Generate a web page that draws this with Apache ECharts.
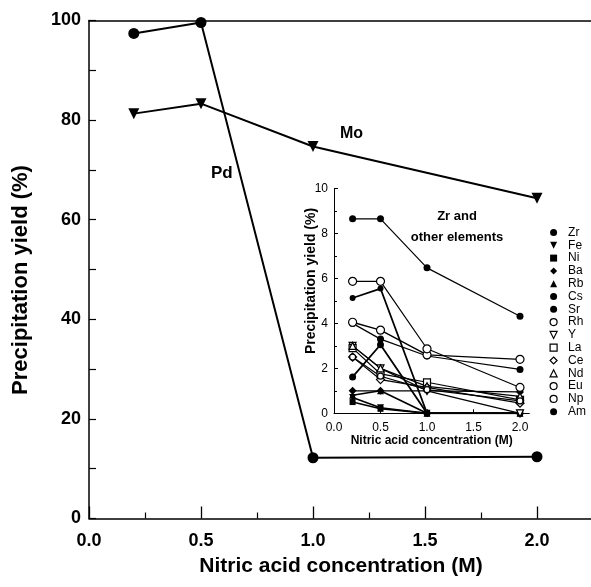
<!DOCTYPE html>
<html>
<head>
<meta charset="utf-8">
<script src="https://cdn.jsdelivr.net/npm/echarts@6/dist/echarts.min.js"></script>
<style>
  html, body { margin: 0; padding: 0; background: #fff; }
  #chart { width: 591px; height: 587px; }
</style>
</head>
<body>
<div id="chart"></div>
<script>
// main plot: Pd and Mo yields vs nitric acid concentration
const mainX = [0.2, 0.5, 1.0, 2.0];
const pdYield = [97.4, 99.6, 12.2, 12.4];
const moYield = [81.3, 83.3, 74.7, 64.3];
const mainXTicks = [0, 0.5, 1.0, 1.5, 2.0];
const mainXMinor = [0.25, 0.75, 1.25, 1.75];

// inset: Zr and other elements, same concentrations
const insetX = [0.2, 0.5, 1.0, 2.0];
const zr = [8.65, 8.65, 6.47, 4.32];
const fe = [0.7, 0.25, 0, 0];
const ni = [0.5, 0.2, 0, 0];
const ba = [1.0, 1.0, 1.0, 0.95];
const rb = [0.8, 1.0, 0, 0];
const cs = [5.13, 5.55, 0, 0];
const sr = [1.62, 3.05, 0, 0];
const rh = [4.05, 3.7, 2.6, 2.4];
const yt = [3.0, 2.0, 1.0, 0];
const la = [2.9, 1.75, 1.38, 0.6];
const ce = [2.5, 1.5, 1.15, 0.45];
const nd = [3.0, 2.0, 1.2, 0.75];
const eu = [2.5, 1.65, 1.05, 0.55];
const np = [5.87, 5.87, 2.87, 1.15];
const am = [4.0, 3.3, 2.55, 1.95];
const insetXTicks = [0, 0.5, 1.0, 1.5, 2.0];

const FONT = 'Liberation Sans, Arial, sans-serif';
const DOWN = 'path://M0,0L2,0L1,2Z';

// name, values, symbol, size, open?, line width
const insetSeries = [
  ['Zr', zr, 'circle', 7, false, 1.2],
  ['Fe', fe, DOWN, 7, false, 1.6],
  ['Ni', ni, 'rect', 6, false, 1.6],
  ['Ba', ba, 'diamond', 8, false, 1.2],
  ['Rb', rb, 'triangle', 7, false, 1.6],
  ['Cs', cs, 'circle', 6, false, 1.8],
  ['Sr', sr, 'circle', 7, false, 1.8],
  ['Rh', rh, 'circle', 8, true, 1.4],
  ['Y', yt, DOWN, 7, true, 1.2],
  ['La', la, 'rect', 7, true, 1.2],
  ['Ce', ce, 'diamond', 8, true, 1.2],
  ['Nd', nd, 'triangle', 7, true, 1.2],
  ['Eu', eu, 'circle', 6, true, 1.2],
  ['Np', np, 'circle', 8, true, 1.2],
  ['Am', am, 'circle', 7, false, 1.2],
];

const pairs = (xs, ys) => xs.map((x, i) => [x, ys[i]]);
const fillOf = (open) => open
  ? { color: '#fff', borderColor: '#000', borderWidth: 1.2 }
  : { color: '#000', borderColor: '#000', borderWidth: 0 };

const axisLine = (w) => ({ show: true, lineStyle: { color: '#000', width: w } });

const option = {
  backgroundColor: '#fff',
  animation: false,
  grid: [
    { left: 89, top: 20.5, width: 504, height: 498, containLabel: false, outerBoundsMode: 'none' },
    { left: 334, top: 188.5, width: 195.3, height: 224.8, containLabel: false, outerBoundsMode: 'none' },
  ],
  xAxis: [
    {
      gridIndex: 0, type: 'value', min: 0, max: 2.25, position: 'bottom',
      axisLine: axisLine(1.5), splitLine: { show: false },
      axisTick: { show: true, inside: true, length: 12, customValues: mainXTicks, lineStyle: { color: '#000', width: 1.3 } },
      axisLabel: { customValues: mainXTicks, formatter: (v) => v.toFixed(1), margin: 14,
        fontFamily: FONT, fontWeight: 'bold', fontSize: 18, color: '#000' },
      name: 'Nitric acid concentration (M)', nameLocation: 'middle', nameGap: 36,
      nameTextStyle: { fontFamily: FONT, fontWeight: 'bold', fontSize: 21, color: '#000' },
    },
    {
      gridIndex: 0, type: 'value', min: 0, max: 2.25, position: 'bottom',
      axisLine: { show: false }, splitLine: { show: false }, axisLabel: { show: false },
      axisTick: { show: true, inside: true, length: 6, customValues: mainXMinor, lineStyle: { color: '#000', width: 1.2 } },
    },
    {
      gridIndex: 0, type: 'value', min: 0, max: 2.25, position: 'top',
      axisLine: axisLine(1.5), splitLine: { show: false }, axisLabel: { show: false }, axisTick: { show: false },
    },
    {
      gridIndex: 1, type: 'value', min: 0, max: 2.1,
      axisLine: axisLine(1), splitLine: { show: false },
      axisTick: { show: true, inside: true, length: 4, customValues: insetXTicks, lineStyle: { color: '#000' } },
      axisLabel: { customValues: insetXTicks, formatter: (v) => v.toFixed(1), margin: 8,
        fontFamily: FONT, fontSize: 12, color: '#000' },
      name: 'Nitric acid concentration (M)', nameLocation: 'middle', nameGap: 21,
      nameTextStyle: { fontFamily: FONT, fontWeight: 'bold', fontSize: 12, color: '#000' },
    },
  ],
  yAxis: [
    {
      gridIndex: 0, type: 'value', min: 0, max: 100, interval: 20,
      axisLine: axisLine(1.5), splitLine: { show: false },
      axisTick: { show: true, inside: true, length: 7, lineStyle: { color: '#000', width: 1.2 } },
      minorTick: { show: true, splitNumber: 2, length: 7, lineStyle: { color: '#000', width: 1.2 } },
      minorSplitLine: { show: false },
      axisLabel: { margin: 8, fontFamily: FONT, fontWeight: 'bold', fontSize: 18, color: '#000' },
    },
    {
      gridIndex: 1, type: 'value', min: 0, max: 10, interval: 2,
      axisLine: axisLine(1), splitLine: { show: false },
      axisTick: { show: true, inside: true, length: 4, lineStyle: { color: '#000' } },
      minorTick: { show: true, splitNumber: 2, length: 3, lineStyle: { color: '#000' } },
      minorSplitLine: { show: false },
      axisLabel: { margin: 6, fontFamily: FONT, fontSize: 12, color: '#000' },
    },
  ],
  legend: {
    orient: 'vertical', left: 544.5, top: 221.5,
    itemWidth: 7, itemHeight: 7, itemGap: 0.8, selectedMode: false, symbolKeepAspect: true,
    textStyle: { fontFamily: FONT, fontSize: 12, lineHeight: 12, color: '#000', padding: [0, 0, 0, 6] },
    data: insetSeries.map(([name, , sym, , open]) => ({ name, icon: sym, itemStyle: fillOf(open) })),
  },
  graphic: [
    // y-axis titles sit off-centre along their axes in the original, so they are placed by hand
    { type: 'text', x: 21, y: 280, rotation: Math.PI / 2, style: { text: 'Precipitation yield (%)',
      font: `bold 22px ${FONT}`, fill: '#000', align: 'center', verticalAlign: 'middle' } },
    { type: 'text', x: 311, y: 281, rotation: Math.PI / 2, style: { text: 'Precipitation yield (%)',
      font: `bold 14px ${FONT}`, fill: '#000', align: 'center', verticalAlign: 'middle' } },
    { type: 'text', left: 340, top: 126, style: { text: 'Mo', font: `bold 16px ${FONT}`, fill: '#000' } },
    { type: 'text', left: 211, top: 165, style: { text: 'Pd', font: `bold 17px ${FONT}`, fill: '#000' } },
    { type: 'text', x: 457, y: 216, style: { text: 'Zr and', font: `bold 13px ${FONT}`, fill: '#000',
      align: 'center', verticalAlign: 'middle' } },
    { type: 'text', x: 457, y: 237, style: { text: 'other elements', font: `bold 13px ${FONT}`, fill: '#000',
      align: 'center', verticalAlign: 'middle' } },
  ],
  series: [
    {
      name: 'Pd', type: 'line', xAxisIndex: 0, yAxisIndex: 0, data: pairs(mainX, pdYield),
      symbol: 'circle', symbolSize: 11, itemStyle: { color: '#000' },
      lineStyle: { color: '#000', width: 2 }, z: 3,
    },
    {
      name: 'Mo', type: 'line', xAxisIndex: 0, yAxisIndex: 0, data: pairs(mainX, moYield),
      symbol: DOWN, symbolSize: 11, itemStyle: { color: '#000' },
      lineStyle: { color: '#000', width: 2 }, z: 3,
    },
    ...insetSeries.map(([name, vals, sym, size, open, lw]) => ({
      name, type: 'line', xAxisIndex: 3, yAxisIndex: 1, data: pairs(insetX, vals),
      symbol: sym, symbolSize: size, showAllSymbol: true,
      itemStyle: fillOf(open), lineStyle: { color: '#000', width: lw },
      z: open ? 4 : 3,
    })),
  ],
};

const chart = echarts.init(document.getElementById('chart'), null, { renderer: 'canvas' });
chart.setOption(option);
</script>
</body>
</html>
